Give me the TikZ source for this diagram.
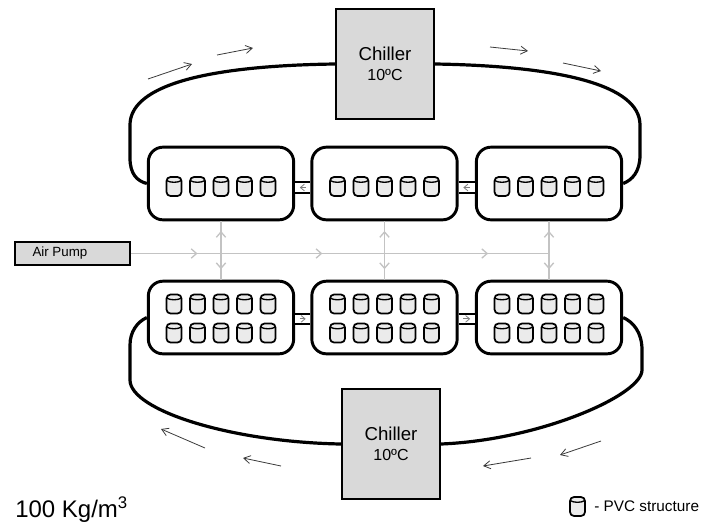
\documentclass[tikz,border=0pt]{standalone}
\usepackage{fontspec}
\setmainfont{Liberation Sans}
\usetikzlibrary{arrows.meta,decorations.markings,calc}
\definecolor{chgray}{HTML}{D9D9D9}
\definecolor{airgray}{HTML}{C3C3C3}
\definecolor{flowgray}{HTML}{3A3A3A}
\definecolor{cylfill}{HTML}{EBEBEB}
\begin{document}
\begin{tikzpicture}[x=0.75pt,y=-0.75pt,
  box/.style={draw, line width=2.2pt, rounded corners=11pt, minimum width=109pt, minimum height=54.5pt, inner sep=0pt},
  chiller/.style={draw, line width=1.6pt, fill=chgray, minimum width=73.5pt, minimum height=82.5pt, align=center, inner sep=0pt},
  loopline/.style={line width=2.4pt},
  air/.style={draw=airgray, line width=1.4pt},
  flow/.style={draw=flowgray, line width=0.6pt, -{Straight Barb[length=5pt,width=6pt]}},
  channel/.style={line width=1.5pt, double=white, double distance=6.5pt},
  chanarrow/.style={draw=gray, line width=0.6pt, -{Straight Barb[length=3pt,width=5pt]}, shorten >=3.5pt, shorten <=3.5pt},
  marr/.style={postaction={decorate}, decoration={markings, mark=at position #1 with {\arrow[color=airgray, line width=1pt]{Straight Barb[length=4pt,width=7pt]}}}},
  cyl/.pic={
    \draw[line width=1.3pt, fill=cylfill, rounded corners=3pt] (-7.5,-9.5) rectangle (7.5,9.5);
    \draw[line width=1pt] (-7.5,-6) .. controls (-3.5,-3.6) and (3.5,-3.6) .. (7.5,-6);
  }]
\useasboundingbox (0,0) rectangle (706,522);

% chillers
\node[chiller] (chT) at (385,64) {\fontsize{14}{17}\selectfont Chiller\\[3pt]\fontsize{12}{16}\selectfont 10ºC};
\node[chiller] (chB) at (391,444) {\fontsize{14}{17}\selectfont Chiller\\[3pt]\fontsize{12}{16}\selectfont 10ºC};

% tank boxes
\node[box] (b1) at (221,183.5) {};
\node[box] (b2) at (384.5,183.5) {};
\node[box] (b3) at (549,183.5) {};
\node[box] (b4) at (221,317.5) {};
\node[box] (b5) at (384.5,317.5) {};
\node[box] (b6) at (549,317.5) {};

% cylinders
\foreach \b in {b1,b2,b3}{
  \foreach \i in {-2,...,2}{
    \pic at ($(\b)+(\i*23.5,3)$) {cyl};
  }
}
\foreach \b in {b4,b5,b6}{
  \foreach \i in {-2,...,2}{
    \pic at ($(\b)+(\i*23.5,-13.5)$) {cyl};
    \pic at ($(\b)+(\i*23.5,15.5)$) {cyl};
  }
}

% channels between boxes
\draw[channel] ([yshift=-3pt]b1.east) -- ([yshift=-3pt]b2.west);
\draw[channel] ([yshift=-3pt]b2.east) -- ([yshift=-3pt]b3.west);
\draw[chanarrow] ([yshift=-3pt]b2.west) -- ([yshift=-3pt]b1.east);
\draw[chanarrow] ([yshift=-3pt]b3.west) -- ([yshift=-3pt]b2.east);
\draw[channel] ([yshift=-1pt]b4.east) -- ([yshift=-1pt]b5.west);
\draw[channel] ([yshift=-1pt]b5.east) -- ([yshift=-1pt]b6.west);
\draw[chanarrow] ([yshift=-1pt]b4.east) -- ([yshift=-1pt]b5.west);
\draw[chanarrow] ([yshift=-1pt]b5.east) -- ([yshift=-1pt]b6.west);

% loops
\draw[loopline] (chT.west) .. controls (190,66) and (130,90) .. (130,125) -- (130,158)
  .. controls (130,174) and (137,181) .. (b1.west);
\draw[loopline] (chT.east) .. controls (560,66) and (640,85) .. (640,125) -- (640,155)
  .. controls (640,172) and (632,180) .. (b3.east);
\draw[loopline] (b4.west) .. controls (137,322) and (130,332) .. (130,345) -- (130,380)
  .. controls (130,410) and (230,442) .. (chB.west);
\draw[loopline] (chB.east) .. controls (540,440) and (642,395) .. (642,370) -- (642,350)
  .. controls (642,332) and (633,322) .. (b6.east);

% air pump
\node[draw, line width=1.4pt, fill=chgray, minimum width=86pt, minimum height=17.5pt, inner sep=0pt] (pump) at (72.5,253.5)
  {\fontsize{10}{12}\selectfont\makebox[60pt][l]{Air Pump}};
\coordinate (j1) at (b1.south |- pump.east);
\coordinate (j2) at (b2.south |- pump.east);
\coordinate (j3) at (b3.south |- pump.east);
\draw[air, marr=0.74] (pump.east) -- (j1);
\draw[air, marr=0.62] (j1) -- (j2);
\draw[air, marr=0.63] (j2) -- (j3);
\foreach \t/\u in {b1/b4,b2/b5,b3/b6}{
  \draw[air, marr=0.7] (\t.south |- pump.east) -- (\t.south);
  \draw[air, marr=0.6] (\t.south |- pump.east) -- (\u.north);
}

% flow arrows
\coordinate (f1s) at (148,79);  \coordinate (f1e) at (192,64);
\coordinate (f2s) at (217,55);  \coordinate (f2e) at (253,48);
\coordinate (f3s) at (490,47);  \coordinate (f3e) at (528,51);
\coordinate (f4s) at (563,63);  \coordinate (f4e) at (601,71);
\coordinate (f5s) at (205,448); \coordinate (f5e) at (161,429);
\coordinate (f6s) at (281,466); \coordinate (f6e) at (243,458);
\coordinate (f7s) at (531,458); \coordinate (f7e) at (483,466);
\coordinate (f8s) at (601,441); \coordinate (f8e) at (560,455);
\foreach \k in {1,...,8}{ \draw[flow] (f\k s) -- (f\k e); }

% density label
\node[anchor=base west, inner sep=0pt] (dens) at (15,517) {\fontsize{18}{20}\selectfont 100 Kg/m\textsuperscript{3}};

% legend
\pic at (577.5,506.5) {cyl};
\node[anchor=west, inner sep=0pt] (leg) at (594,506) {\fontsize{11.5}{14}\selectfont - PVC structure};
\end{tikzpicture}
\end{document}
